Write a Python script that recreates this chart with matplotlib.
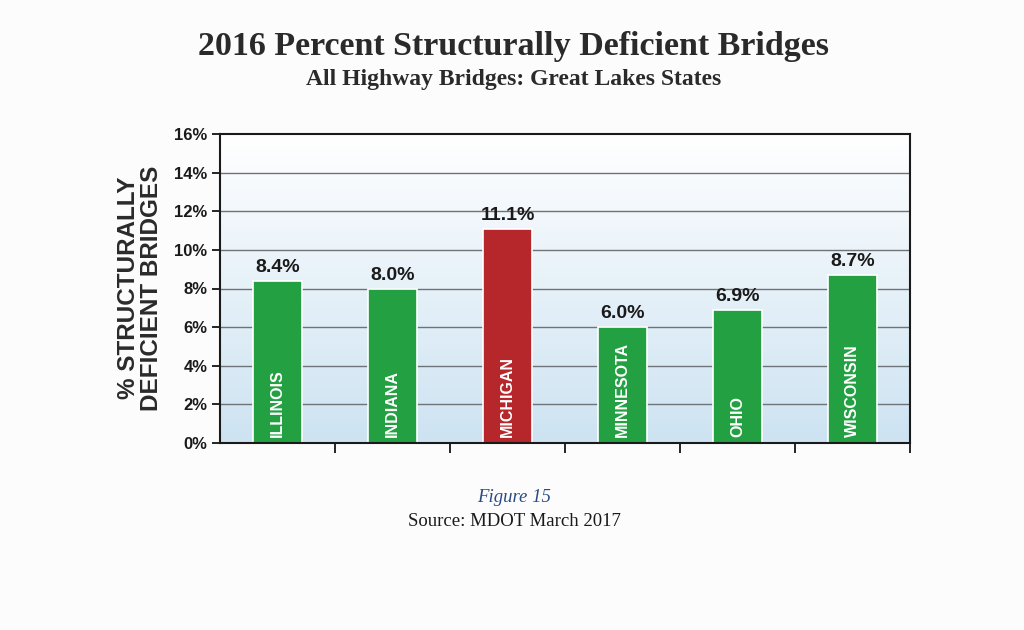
import numpy as np
import matplotlib
matplotlib.use("Agg")
import matplotlib.pyplot as plt
from matplotlib.colors import LinearSegmentedColormap

states = ["ILLINOIS", "INDIANA", "MICHIGAN", "MINNESOTA", "OHIO", "WISCONSIN"]
values = [8.4, 8.0, 11.1, 6.0, 6.9, 8.7]
highlight = "MICHIGAN"
yticks = [0, 2, 4, 6, 8, 10, 12, 14, 16]

GREEN = "#22a042"
RED = "#b5272a"

fig = plt.figure(figsize=(10.24, 6.3), dpi=100)
fig.patch.set_facecolor("#fdfcfc")
ax = fig.add_axes([220/1024, 1-443/630, 690/1024, 309/630])

n = len(states)
x = np.arange(n)

# gradient background: light blue at bottom to white at top
cmap = LinearSegmentedColormap.from_list("bg", ["#ffffff", "#cde3f2"])
grad = np.linspace(1, 0, 256).reshape(-1, 1)
ax.imshow(grad, aspect="auto", cmap=cmap, extent=[-0.5, n-0.5, 0, 16], zorder=0, origin="lower")
ax.set_xlim(-0.5, n-0.5)
ax.set_ylim(0, 16)

for yv in yticks[1:-1]:
    ax.axhline(yv, color="#6e7378", lw=1.0, zorder=1)

colors = [RED if s == highlight else GREEN for s in states]
bars = ax.bar(x, values, width=0.42, color=colors, edgecolor="white", linewidth=1.2, zorder=2)

for xi, v, s in zip(x, values, states):
    ax.text(xi, v + 0.25, f"{v:.1f}%", ha="center", va="bottom", fontsize=14,
            fontweight="bold", family="Liberation Sans", color="#1a1a1a", zorder=3)
    ax.text(xi, 0.3, s, rotation=90, ha="center", va="bottom", fontsize=11.5,
            fontweight="bold", family="Liberation Sans", color="white", zorder=3)

ax.set_yticks(yticks)
ax.set_yticklabels([f"{t}%" for t in yticks], fontsize=12, fontweight="bold",
                   family="Liberation Sans", color="#1a1a1a")
ax.set_xticks(np.arange(n) + 0.5)
ax.set_xticklabels([])
ax.tick_params(axis="y", length=6, width=1.2, direction="out", pad=3)
ax.tick_params(axis="x", length=7, width=1.2, direction="out")
for sp in ax.spines.values():
    sp.set_linewidth(1.5)
    sp.set_color("#1a1a1a")

fig.text(140/1024, 1-288/630, "% STRUCTURALLY\nDEFICIENT BRIDGES", rotation=90,
         ha="center", va="center", fontsize=17.5, fontweight="bold",
         family="Liberation Sans", color="#2a2a2a", linespacing=0.95)

fig.text(513/1024, 1-47/630, "2016 Percent Structurally Deficient Bridges",
         ha="center", va="center", fontsize=24.5, fontweight="bold",
         family="Liberation Serif", color="#2a2a2a")
fig.text(514/1024, 1-80/630, "All Highway Bridges: Great Lakes States",
         ha="center", va="center", fontsize=17, fontweight="bold",
         family="Liberation Serif", color="#2a2a2a")
fig.text(514/1024, 1-497/630, "Figure 15", ha="center", va="center", fontsize=13.5,
         style="italic", family="Liberation Serif", color="#2b4a85")
fig.text(514/1024, 1-521/630, "Source: MDOT March 2017", ha="center", va="center",
         fontsize=13.5, family="Liberation Serif", color="#1a1a1a")

fig.savefig("out.png", dpi=100, facecolor=fig.get_facecolor())
